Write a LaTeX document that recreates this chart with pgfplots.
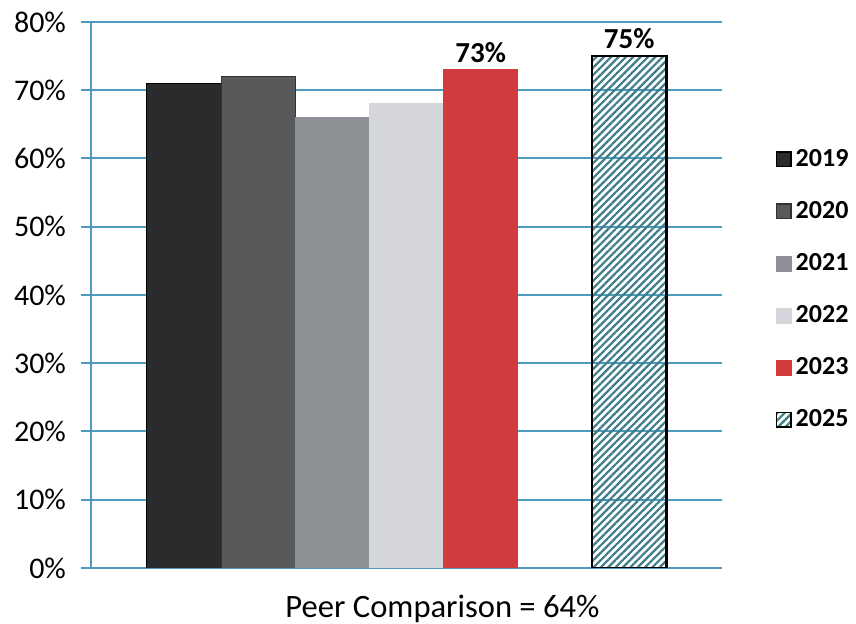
\documentclass[border=0pt]{standalone}
\usepackage{fontspec}
\setmainfont{Carlito}
\usepackage{pgfplots}
\pgfplotsset{compat=1.18}
\usetikzlibrary{patterns.meta}

\definecolor{gridblue}{RGB}{77,155,191}
\definecolor{cA}{RGB}{42,43,44}
\definecolor{cB}{RGB}{88,89,91}
\definecolor{cC}{RGB}{140,143,147}
\definecolor{cD}{RGB}{213,213,220}
\definecolor{cE}{RGB}{209,59,61}
\definecolor{hatchteal}{RGB}{61,125,138}

\begin{document}
\begin{tikzpicture}
\path[use as bounding box] (-45.5pt,-28pt) rectangle (382.5pt,284pt);
\begin{axis}[
	width=315.5pt, height=273pt, scale only axis,
	xmin=-1.25, xmax=7.25, ymin=0, ymax=80,
	ybar, bar width=1,
	ytick={0,10,...,80},
	yticklabel={\pgfmathprintnumber{\tick}\%},
	/pgf/number format/assume math mode=true,
	yticklabel style={font=\fontsize{15}{17}\selectfont, xshift=-4pt},
	xtick=\empty,
	ymajorgrids, grid style={gridblue, line width=1pt},
	axis x line*=bottom, axis y line*=left,
	axis line style={-},
	x axis line style={draw=none},
	y axis line style={draw=gridblue, line width=1pt},
	tick align=outside, major tick length=5pt,
	tick style={gridblue, line width=1pt},
	xlabel={Peer Comparison = 64\%},
	xlabel style={at={(axis description cs:0.557,0)}, anchor=center, yshift=-20.5pt, font=\fontsize{16.3}{18}\selectfont},
	legend cell align=left,
	legend style={at={(1.075,0.51)}, anchor=west, draw=none, fill=none,
		font=\fontsize{13}{15}\selectfont\bfseries, row sep=12pt},
	legend image code/.code={\draw[#1, line width=0.8pt] (0.5pt,-3.6pt) rectangle (7.7pt,3.6pt);},
	nodes near coords style={font=\fontsize{14.5}{16}\selectfont\bfseries, text=black},
]
% 2019
\addplot[bar shift=0pt, fill=cA, draw=black] coordinates {(0,71)};
% 2020
\addplot[bar shift=0pt, fill=cB, draw=black!80] coordinates {(1,72)};
% 2021
\addplot[bar shift=0pt, fill=cC, draw=cC] coordinates {(2,66)};
% 2022
\addplot[bar shift=0pt, fill=cD, draw=cD] coordinates {(3,68)};
% 2023
\addplot[bar shift=0pt, fill=cE, draw=cE,
	nodes near coords={\pgfmathprintnumber{\pgfplotspointmeta}\%}] coordinates {(4,73)};
% 2025 target
\addplot[bar shift=0pt, draw=black, line width=1.2pt,
	pattern={Lines[angle=45,distance=2.6pt,line width=1.1pt]}, pattern color=hatchteal,
	nodes near coords={\pgfmathprintnumber{\pgfplotspointmeta}\%}] coordinates {(6,75)};
\legend{2019,2020,2021,2022,2023,2025}
\end{axis}
\end{tikzpicture}
\end{document}
